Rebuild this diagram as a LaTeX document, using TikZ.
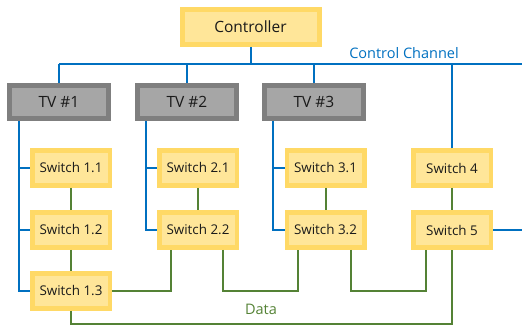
\documentclass[tikz,border=0pt]{standalone}
\usepackage{fontspec}
\setmainfont{Open Sans}
\usetikzlibrary{calc}
\definecolor{boxfill}{HTML}{FFE699}
\definecolor{boxline}{HTML}{FFD966}
\definecolor{tvfill}{HTML}{A6A6A6}
\definecolor{tvline}{HTML}{7F7F7F}
\definecolor{ctrlblue}{HTML}{0070C0}
\definecolor{datagreen}{HTML}{548235}
\definecolor{inktext}{HTML}{1A1A1A}
\tikzset{
  ctrlbox/.style={draw=boxline, fill=boxfill, line width=5pt, minimum width=137pt, minimum height=35pt, inner sep=0pt, text=inktext, font=\fontsize{15.5}{18}\selectfont},
  tvbox/.style={draw=tvline, fill=tvfill, line width=5pt, minimum width=99pt, minimum height=33pt, inner sep=0pt, text=inktext, font=\fontsize{15.5}{18}\selectfont},
  swbox/.style={draw=boxline, fill=boxfill, line width=4.5pt, minimum width=77.5pt, minimum height=35pt, inner sep=0pt, text=inktext, font=\fontsize{13.4}{16}\selectfont},
  ctrlline/.style={draw=ctrlblue, line width=2pt},
  dataline/.style={draw=datagreen, line width=2pt},
  lbl/.style={font=\fontsize{14.5}{17}\selectfont, inner sep=0pt},
}
\begin{document}
\begin{tikzpicture}[x=1pt, y=-1pt]
\useasboundingbox (0,0) rectangle (522,329);

% control channel bus
\coordinate (busL) at (59,64);
\coordinate (busR) at (522,64);
\coordinate (t1) at (19,121);
\coordinate (t2) at (146,121);
\coordinate (t3) at (273,121);

% nodes
\node[ctrlbox] (ctrl) at (250.5,27) {Controller};
\node[tvbox] (tv1) at (59,102) {TV \#1};
\node[tvbox] (tv2) at (187,102) {TV \#2};
\node[tvbox] (tv3) at (314,102) {TV \#3};

\node[swbox] (sw11) at (71,168) {Switch 1.1};
\node[swbox] (sw12) at (71,230) {Switch 1.2};
\node[swbox] (sw13) at (71,291) {Switch 1.3};
\node[swbox] (sw21) at (198,168) {Switch 2.1};
\node[swbox] (sw22) at (198,230) {Switch 2.2};
\node[swbox] (sw31) at (325.5,168) {Switch 3.1};
\node[swbox] (sw32) at (325.5,230) {Switch 3.2};
\node[swbox] (sw4) at (452,168) {Switch 4};
\node[swbox] (sw5) at (452,230) {Switch 5};

% control channel
\draw[ctrlline] (ctrl.south) -- (ctrl.south |- busL);
\draw[ctrlline] (busL) -- (busR);
\draw[ctrlline] (tv1.north) -- (tv1.north |- busL);
\draw[ctrlline] (tv2.north) -- (tv2.north |- busL);
\draw[ctrlline] (tv3.north) -- (tv3.north |- busL);
\draw[ctrlline] (sw4.north) -- (sw4.north |- busL);

\draw[ctrlline] (t1 |- tv1.south) |- (sw13.west);
\draw[ctrlline] (t1 |- sw11.west) -- (sw11.west);
\draw[ctrlline] (t1 |- sw12.west) -- (sw12.west);
\draw[ctrlline] (t2 |- tv2.south) |- (sw22.west);
\draw[ctrlline] (t2 |- sw21.west) -- (sw21.west);
\draw[ctrlline] (t3 |- tv3.south) |- (sw32.west);
\draw[ctrlline] (t3 |- sw31.west) -- (sw31.west);
\draw[ctrlline] (sw5.east) -- (sw5.east -| busR);

% data links
\draw[dataline] (sw11.south) -- (sw12.north);
\draw[dataline] (sw12.south) -- (sw13.north);
\draw[dataline] (sw21.south) -- (sw22.north);
\draw[dataline] (sw31.south) -- (sw32.north);
\draw[dataline] (sw4.south) -- (sw5.north);

\draw[dataline] (sw13.east) -| ($(sw22.south)+(-27,0)$);
\draw[dataline] ($(sw22.south)+(25,0)$) |- (273,291) -| ($(sw32.south)+(-27.5,0)$);
\draw[dataline] ($(sw32.south)+(25.5,0)$) |- (400,291) -| ($(sw5.south)+(-26,0)$);
\draw[dataline] (sw13.south) |- (300,324) -| (sw5.south);

% labels
\node[lbl, text=ctrlblue] (cclabel) at (404,53) {Control Channel};
\node[lbl, text=datagreen] (datalabel) at (261,309) {Data};
\end{tikzpicture}
\end{document}
